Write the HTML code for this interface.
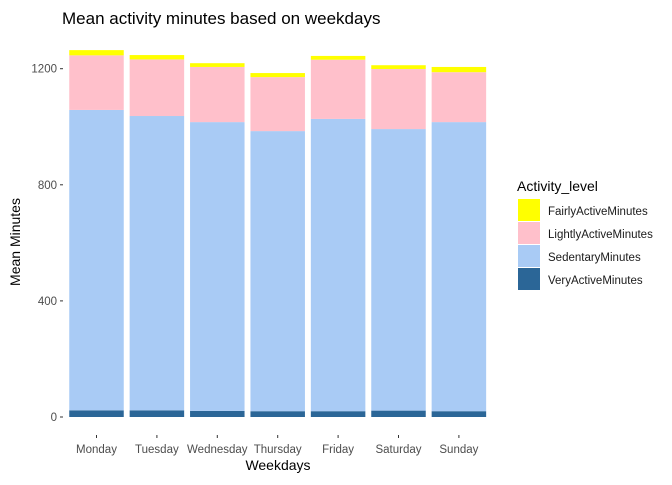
<!DOCTYPE html>
<html><head><meta charset="utf-8"><style>
body{margin:0;background:#fff;font-family:"Liberation Sans",sans-serif}
svg text{font-family:"Liberation Sans",sans-serif}
</style></head><body>
<svg id="chart" width="672" height="480" xmlns="http://www.w3.org/2000/svg">
<text x="62" y="24" font-size="17" fill="#000">Mean activity minutes based on weekdays</text>
<text transform="translate(20,242) rotate(-90)" text-anchor="middle" font-size="14" fill="#000">Mean Minutes</text>
<text x="278" y="470" text-anchor="middle" font-size="14" fill="#000">Weekdays</text>
<g id="bars"></g>
<g id="axes"></g>
<g>
<text x="517" y="191" font-size="14" fill="#000">Activity_level</text>
<rect x="518" y="199" width="22" height="22" fill="#ffff00"/>
<text x="548" y="215" font-size="11.5" fill="#1a1a1a">FairlyActiveMinutes</text>
<rect x="518" y="222" width="22" height="22" fill="#ffc0cb"/>
<text x="548" y="238" font-size="11.5" fill="#1a1a1a">LightlyActiveMinutes</text>
<rect x="518" y="245" width="22" height="22" fill="#a9cbf5"/>
<text x="548" y="261" font-size="11.5" fill="#1a1a1a">SedentaryMinutes</text>
<rect x="518" y="268" width="22" height="22" fill="#2b6697"/>
<text x="548" y="284" font-size="11.5" fill="#1a1a1a">VeryActiveMinutes</text>
</g>
</svg>
<script>
const categories=["Monday","Tuesday","Wednesday","Thursday","Friday","Saturday","Sunday"];
const veryActive=[23,23,21,20,20,22,20];
const sedentary=[1035,1014,995,965,1007,970,996];
const lightlyActive=[188,195,190,186,204,207,172];
const fairlyActive=[18,15,13,14,13,13,18];
const yTicks=[0,400,800,1200];
const NS="http://www.w3.org/2000/svg";
const y0=417, k=(417-68.7)/1200;
function yScale(v){return y0-v*k;}
function xScale(i){return 96.5+i*60.4;}
const bw=54.5;
const bars=document.getElementById('bars');
const axes=document.getElementById('axes');
const series=[[veryActive,"#2b6697","veryactive"],[sedentary,"#a9cbf5","sedentary"],[lightlyActive,"#ffc0cb","lightly"],[fairlyActive,"#ffff00","fairly"]];
categories.forEach((c,i)=>{
  let base=0;
  series.forEach(s=>{
    const v=s[0][i];
    const r=document.createElementNS(NS,'rect');
    
    
    r.setAttribute('x',xScale(i)-bw/2);
    r.setAttribute('width',bw);
    r.setAttribute('y',yScale(base+v));
    r.setAttribute('height',yScale(base)-yScale(base+v));
    r.setAttribute('fill',s[1]);
    bars.appendChild(r);
    base+=v;
  });
  const t=document.createElementNS(NS,'line');
  
  
  t.setAttribute('x1',xScale(i));t.setAttribute('x2',xScale(i));
  t.setAttribute('y1',435);t.setAttribute('y2',438);
  t.setAttribute('stroke','#333');
  axes.appendChild(t);
  const l=document.createElementNS(NS,'text');
  
  
  l.setAttribute('x',xScale(i));l.setAttribute('y',453);
  l.setAttribute('text-anchor','middle');l.setAttribute('font-size','11.5');l.setAttribute('fill','#4d4d4d');
  l.textContent=c;
  axes.appendChild(l);
});
yTicks.forEach(v=>{
  const t=document.createElementNS(NS,'line');
  
  
  t.setAttribute('x1',60);t.setAttribute('x2',63);
  t.setAttribute('y1',yScale(v));t.setAttribute('y2',yScale(v));
  t.setAttribute('stroke','#333');
  axes.appendChild(t);
  const l=document.createElementNS(NS,'text');
  
  
  l.setAttribute('x',57);l.setAttribute('y',yScale(v)+4);
  l.setAttribute('text-anchor','end');l.setAttribute('font-size','11.5');l.setAttribute('fill','#4d4d4d');
  l.textContent=v;
  axes.appendChild(l);
});
</script>
</body></html>
